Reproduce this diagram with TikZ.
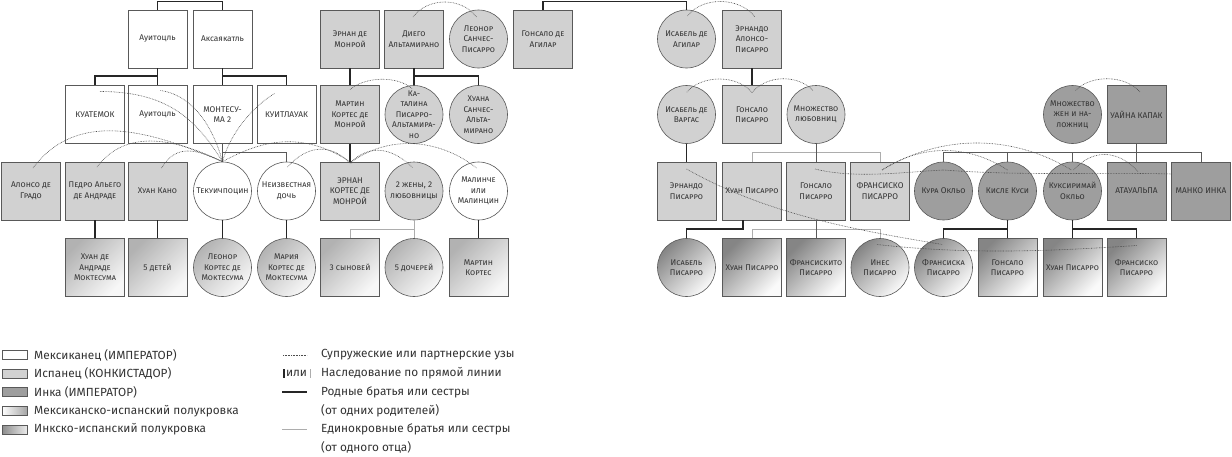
\documentclass[tikz,border=0pt]{standalone}
\usepackage{fontspec}
\setmainfont{Fira Sans}
\begin{document}
\begin{tikzpicture}[x=1pt,y=-1pt,
  nf/.style={font=\fontsize{8.3}{10.5}\selectfont, text=black!80},
  box/.style={nf, draw=black!65, line width=0.6pt, minimum width=59pt, minimum height=58pt, inner sep=1pt, align=center},
  circ/.style={nf, circle, draw=black!65, line width=0.6pt, minimum size=58pt, inner sep=-9pt, align=center},
  mx/.style={fill=white},
  sp/.style={fill=black!18},
  inca/.style={fill=black!38},
  mexsp/.style={top color=black!30, bottom color=black!3, shading angle=45},
  incasp/.style={top color=black!48, bottom color=black!2, shading angle=45},
  thk/.style={line width=1.5pt, black!85},
  kin/.style={line width=0.7pt, black!65},
  half/.style={line width=0.7pt, black!32},
  spo/.style={line width=0.6pt, black!70, dash pattern=on 0.7pt off 0.9pt},
  sw/.style={draw=black!65, line width=0.5pt, minimum width=25pt, minimum height=9pt, inner sep=0pt},
  lt/.style={font=\fontsize{11.8}{13}\selectfont, text=black!80, anchor=west, inner sep=0pt}
]
\useasboundingbox (0,0) rectangle (1232,456);
\fill[white] (0,0) rectangle (1232,456);

% ---------- row 1
\node[box,mx] (auit1) at (157.5,39) {Ауитоцль};
\node[box,mx] (aksa) at (222.5,39) {Аксаякатль};
\node[box,sp] (monroy) at (350,39) {\scshape Эрнан де\\\scshape Монрой};
\node[box,sp] (diego) at (414,39) {\scshape Диего\\\scshape Альтамирано};
\node[circ,sp] (leonorS) at (478.5,39) {\scshape Леонор\\\scshape Санчес-\\\scshape Писарро};
\node[box,sp] (gagil) at (543,39) {\scshape Гонсало де\\\scshape Агилар};
\node[circ,sp] (iagil) at (686.5,39) {\scshape Исабель де\\\scshape Агилар};
\node[box,sp] (ealonso) at (752,39) {\scshape Эрнандо\\\scshape Алонсо-\\\scshape Писарро};

% ---------- row 2
\node[box,mx] (kuat) at (95,114.5) {КУАТЕМОК};
\node[box,mx] (auit2) at (157.5,114.5) {Ауитоцль};
\node[box,mx] (mont) at (222.5,114.5) {МОНТЕСУ-\\МА 2};
\node[box,mx] (kuitl) at (286.5,114.5) {КУИТЛАУАК};
\node[box,sp] (martinM) at (350,114.5) {\scshape Мартин\\\scshape Кортес де\\\scshape Монрой};
\node[circ,sp] (katal) at (414,114.5) {\scshape Ка-\\\scshape талина\\\scshape Писарро-\\\scshape Альтамира-\\\scshape но};
\node[circ,sp] (juana) at (478.5,114.5) {\scshape Хуана\\\scshape Санчес-\\\scshape Альта-\\\scshape мирано};
\node[circ,sp] (ivarg) at (686.5,114.5) {\scshape Исабель де\\\scshape Варгас};
\node[box,sp] (gonz2) at (752,114.5) {\scshape Гонсало\\\scshape Писарро};
\node[circ,sp] (lov) at (816,114.5) {\scshape Множество\\\scshape любовниц};
\node[circ,inca] (wives) at (1072.5,114.5) {\scshape Множество\\\scshape жен и на-\\\scshape ложниц};
\node[box,inca] (uayna) at (1136.5,114.5) {УАЙНА КАПАК};

% ---------- row 3
\node[box,sp] (alonso) at (31,191) {\scshape Алонсо де\\\scshape Градо};
\node[box,sp] (pedro) at (95,191) {\scshape Педро Альего\\\scshape де Андраде};
\node[box,sp] (kano) at (157.5,191) {\scshape Хуан Кано};
\node[circ,mx] (tekui) at (222.5,191) {\scshape Текуичпоцин};
\node[circ,mx] (nezv) at (286.5,191) {\scshape Неизвестная\\\scshape дочь};
\node[box,sp] (cortes) at (350,191) {ЭРНАН\\КОРТЕС ДЕ\\МОНРОЙ};
\node[circ,sp] (twow) at (414,191) {\scshape 2 жены, 2\\\scshape любовницы};
\node[circ,mx] (malin) at (478.5,191) {\scshape Малинче\\\scshape или\\\scshape Малинцин};
\node[box,sp] (hernP) at (686.5,191) {\scshape Эрнандо\\\scshape Писарро};
\node[box,sp] (juan3) at (752,191) {\scshape Хуан Писарро};
\node[box,sp] (gonz3) at (816,191) {\scshape Гонсало\\\scshape Писарро};
\node[box,sp] (franc) at (880,191) {ФРАНСИСКО\\ПИСАРРО};
\node[circ,inca] (kura) at (943.5,191) {\scshape Кура Окльо};
\node[circ,inca] (kispe) at (1007.5,191) {\scshape Кисле Куси};
\node[circ,inca] (kuksi) at (1072.5,191) {\scshape Куксиримай\\\scshape Окльо};
\node[box,inca] (atau) at (1136.5,191) {АТАУАЛЬПА};
\node[box,inca] (manko) at (1201,191) {МАНКО ИНКА};

% ---------- row 4
\node[box,mexsp] (andrade) at (95,267.5) {\scshape Хуан де\\\scshape Андраде\\\scshape Моктесума};
\node[box,mexsp] (deti) at (157.5,267.5) {\scshape 5 детей};
\node[circ,mexsp] (leonorC) at (222.5,267.5) {\scshape Леонор\\\scshape Кортес де\\\scshape Моктесума};
\node[circ,mexsp] (maria) at (286.5,267.5) {\scshape Мария\\\scshape Кортес де\\\scshape Моктесума};
\node[box,mexsp] (sons) at (350,267.5) {\scshape 3 сыновей};
\node[circ,mexsp] (daught) at (414,267.5) {\scshape 5 дочерей};
\node[box,mexsp] (martinC) at (478.5,267.5) {\scshape Мартин\\\scshape Кортес};
\node[circ,incasp] (isabP) at (686.5,267.5) {\scshape Исабель\\\scshape Писарро};
\node[box,incasp] (juan4) at (752,267.5) {\scshape Хуан Писарро};
\node[box,incasp] (fritos) at (816,267.5) {\scshape Франсискито\\\scshape Писарро};
\node[circ,incasp] (ines) at (880,267.5) {\scshape Инес\\\scshape Писарро};
\node[circ,incasp] (francisca) at (943.5,267.5) {\scshape Франсиска\\\scshape Писарро};
\node[box,incasp] (gonz4) at (1007.5,267.5) {\scshape Гонсало\\\scshape Писарро};
\node[box,incasp] (juan4b) at (1072.5,267.5) {\scshape Хуан Писарро};
\node[box,incasp] (franc4) at (1136.5,267.5) {\scshape Франсиско\\\scshape Писарро};

% ---------- descent lines
\draw[thk] (auit1.north) -- ++(0,-8) -| (aksa.north);
\draw[thk] (gagil.north) -- ++(0,-8) -| (iagil.north);
\draw[thk] (auit1.south) -- (auit2.north);
\draw[thk] (kuat.north) -- ++(0,-9) -| (auit1.south);
\draw[thk] (aksa.south) -- (mont.north);
\draw[thk] (kuitl.north) -- ++(0,-9) -| (aksa.south);
\draw[thk] (monroy.south) -- (martinM.north);
\draw[thk] (diego.south) -- (katal.north);
\draw[thk] (juana.north) -- ++(0,-9) -| (diego.south);
\draw[thk] (ealonso.south) -- (gonz2.north);

\draw[kin] (mont.south) -- (tekui.north);
\draw[kin] (nezv.north) -- ++(0,-9) -| (mont.south);
\draw[thk] (martinM.south) -- (cortes.north);
\draw[thk] (ivarg.south) -- (hernP.north);
\draw[half] (juan3.north) -- ++(0,-9) -| (franc.north);
\draw[kin] (lov.south) -- (gonz3.north);
\draw[kin] (kura.north) -- ++(0,-9) -| (manko.north);
\draw[kin] (uayna.south) -- (atau.north);
\draw[kin] (kispe.north) -- ++(0,-9);
\draw[kin] (kuksi.north) -- ++(0,-9);

\draw[thk] (pedro.south) -- (andrade.north);
\draw[thk] (kano.south) -- (deti.north);
\draw[thk] (tekui.south) -- (leonorC.north);
\draw[thk] (nezv.south) -- (maria.north);
\draw[half] (twow.south) -- (daught.north);
\draw[half] (sons.north) -- ++(0,-9) -| (twow.south);
\draw[thk] (malin.south) -- (martinC.north);
\draw[thk] (isabP.north) -- ++(0,-9) -| ([xshift=-9pt]juan3.south);
\draw[half] (juan4.north) -- ++(0,-9) -| (ines.north);
\draw[kin] (gonz3.south) -- (fritos.north);
\draw[thk] (francisca.north) -- ++(0,-9) -| (kispe.south);
\draw[thk] (gonz4.north) -- (kispe.south);
\draw[thk] (franc4.north) -- ++(0,-9) -| (kuksi.south);
\draw[thk] (juan4b.north) -- (kuksi.south);

% ---------- spouse ties
\draw[spo] ([shift={(-1,-22)}]diego.center) .. controls +(15,-20) and +(-15,-20) .. ([shift={(-2,-22)}]leonorS.center);
\draw[spo] ([shift={(1,-23)}]iagil.center) .. controls +(15,-20) and +(-15,-20) .. ([shift={(3,-22)}]ealonso.center);
\draw[spo] ([shift={(0,-25)}]martinM.center) .. controls +(15,-13) and +(-15,-13) .. ([shift={(-2,-26)}]katal.center);
\draw[spo] ([shift={(0,-22)}]gonz2.center) .. controls +(-15,-18) and +(15,-18) .. ([shift={(0,-22)}]ivarg.center);
\draw[spo] ([shift={(0,-22)}]gonz2.center) .. controls +(15,-18) and +(-15,-16) .. ([shift={(-3,-24)}]lov.center);
\draw[spo] ([shift={(3,-24)}]wives.center) .. controls +(15,-16) and +(-15,-18) .. ([shift={(4,-22)}]uayna.center);

\draw[spo] ([shift={(5,-23)}]kuat.center) .. controls +(70,0) and +(-25,-40) .. (tekui.north);
\draw[spo] ([shift={(3,-24)}]auit2.center) .. controls +(35,5) and +(-8,-30) .. (tekui.north);
\draw[spo] ([shift={(-12,-21)}]kuitl.center) .. controls +(-20,12) and +(8,-30) .. (tekui.north);
\draw[spo] ([shift={(2,-23)}]alonso.center) .. controls +(45,-60) and +(-70,-30) .. (tekui.north);
\draw[spo] ([shift={(2,-24)}]pedro.center) .. controls +(30,-40) and +(-45,-22) .. (tekui.north);
\draw[spo] ([shift={(4,-23)}]kano.center) .. controls +(15,-25) and +(-25,-12) .. (tekui.north);
\draw[spo] ([shift={(2,-28)}]cortes.center) .. controls +(-45,-30) and +(45,-25) .. (tekui.north);
\draw[spo] ([shift={(1,-24)}]nezv.center) .. controls +(20,-22) and +(-20,-20) .. ([shift={(0,-28)}]cortes.center);
\draw[spo] ([shift={(0,-28)}]cortes.center) .. controls +(20,-20) and +(-20,-20) .. ([shift={(-1,-23)}]twow.center);
\draw[spo] ([shift={(0,-28)}]cortes.center) .. controls +(40,-30) and +(-35,-28) .. ([shift={(-2,-23)}]malin.center);

\draw[spo] ([shift={(2,-21)}]franc.center) .. controls +(40,-26) and +(-40,-26) .. ([shift={(0,-21)}]kispe.center);
\draw[spo] ([shift={(2,-21)}]franc.center) .. controls +(60,-36) and +(-60,-36) .. ([shift={(-1,-21)}]kuksi.center);
\draw[spo] ([shift={(1,-21)}]kuksi.center) .. controls +(20,-22) and +(-20,-22) .. ([shift={(2,-19)}]atau.center);
\draw[spo] ([shift={(-1,-22)}]gonz3.center) .. controls +(40,10) and +(-40,2) .. ([shift={(0,-21)}]kura.center);
\draw[spo] ([shift={(0,-21)}]kura.center) .. controls +(80,6) and +(-80,-2) .. ([shift={(-29,-17)}]manko.center);
\draw[spo] ([shift={(0,-22)}]hernP.center) .. controls +(80,45) and +(-90,-15) .. ([shift={(-1,-23)}]francisca.center);
\draw[spo] ([shift={(-3,-23)}]ines.center) .. controls +(90,10) and +(-90,6) .. ([shift={(0,-22)}]franc4.center);

% ---------- legend, left
\node[sw,fill=white] (sw1) at (14.5,355) {};
\node[sw,fill=black!18] (sw2) at (14.5,373.5) {};
\node[sw,fill=black!38] (sw3) at (14.5,392) {};
\node[sw,left color=white, right color=black!35] (sw4) at (14.5,411) {};
\node[sw,left color=black!45, right color=black!8] (sw5) at (14.5,429.5) {};
\node[lt] (t1) at (34,355) {Мексиканец (ИМПЕРАТОР)};
\node[lt] (t2) at (34,373.5) {Испанец (КОНКИСТАДОР)};
\node[lt] (t3) at (34,392) {Инка (ИМПЕРАТОР)};
\node[lt] (t4) at (34,411) {Мексиканско-испанский полукровка};
\node[lt] (t5) at (34,429.5) {Инкско-испанский полукровка};

% ---------- legend, right
\coordinate (la1) at (283,355); \coordinate (lb1) at (307,355);
\draw[spo] (la1) -- (lb1);
\coordinate (la2) at (283.5,369); \coordinate (lb2) at (283.5,378);
\draw[line width=2pt, black!85] (la2) -- (lb2);
\node[lt, anchor=center] (ili) at (296.5,373.5) {или};
\coordinate (la3) at (310.5,369); \coordinate (lb3) at (310.5,378);
\draw[half] (la3) -- (lb3);
\coordinate (la4) at (282,392); \coordinate (lb4) at (307,392);
\draw[thk] (la4) -- (lb4);
\coordinate (la5) at (282,429.5); \coordinate (lb5) at (307,429.5);
\draw[half] (la5) -- (lb5);
\node[lt] (r1) at (321,355) {Супружеские или партнерские узы};
\node[lt] (r2) at (321,373.5) {Наследование по прямой линии};
\node[lt] (r3) at (321,392) {Родные братья или сестры};
\node[lt] (r4) at (321,411) {(от одних родителей)};
\node[lt] (r5) at (321,429.5) {Единокровные братья или сестры};
\node[lt] (r6) at (321,447.5) {(от одного отца)};
\end{tikzpicture}
\end{document}
